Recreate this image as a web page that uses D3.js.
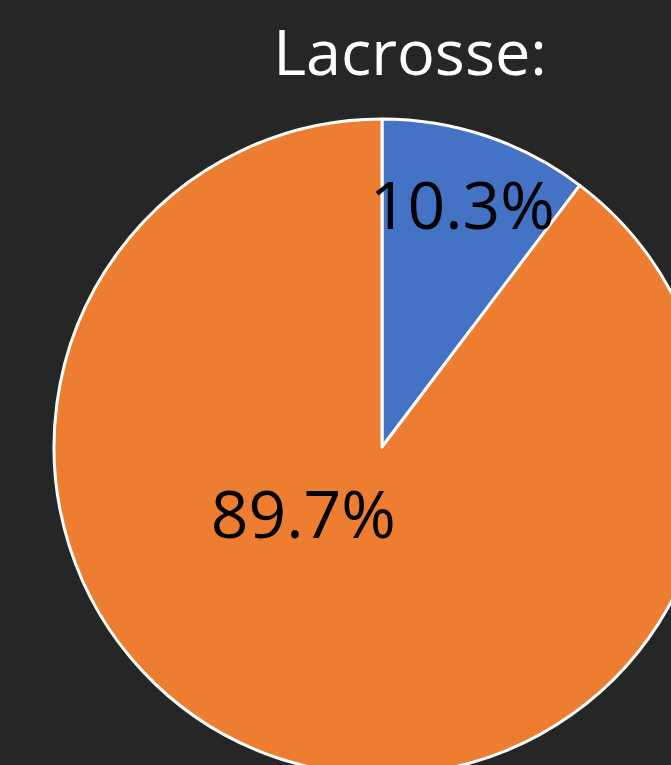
<!DOCTYPE html>
<html><head><meta charset="utf-8">
<script src="https://cdn.jsdelivr.net/npm/d3@7"></script>
<style>
html,body{margin:0;padding:0;background:#262626;overflow:hidden;}
svg{display:block;}
text{font-family:"Open Sans","Noto Sans",sans-serif;}
</style></head>
<body>
<script>
const title = "Lacrosse:";
const categories = ["Yes", "No"];
const values = [10.3, 89.7];
const colors = ["#4472C4", "#ED7D31"];
const labelTexts = ["10.3%", "89.7%"];

const W = 671, H = 765;
const cx = 382, cy = 447, R = 328;

const svg = d3.select("body").append("svg").attr("width", W).attr("height", H);
svg.append("rect").attr("width", W).attr("height", H).attr("fill", "#262626");

svg.append("text").attr("x", 410).attr("y", 75)
  .attr("text-anchor", "middle").attr("fill", "#FFFFFF")
  .attr("font-size", 63).text(title);

const pie = d3.pie().sort(null).value(d => d);
const arcs = pie(values);
const arc = d3.arc().innerRadius(0).outerRadius(R);

const g = svg.append("g").attr("transform", `translate(${cx},${cy})`);
g.selectAll("path").data(arcs).enter().append("path")
  .attr("d", arc).attr("fill", (d, i) => colors[i])
  .attr("stroke", "#FFFFFF").attr("stroke-width", 3).attr("stroke-linejoin", "round");

// label placement: radius fraction and angular shift (Excel best-fit)
const labelR = [0.77, 0.32];
const labelShift = [0, 30 * Math.PI / 180];
g.selectAll("text.lbl").data(arcs).enter().append("text").attr("class", "lbl")
  .attr("x", (d, i) => { const a = (d.startAngle + d.endAngle) / 2 + labelShift[i]; return Math.sin(a) * R * labelR[i]; })
  .attr("y", (d, i) => { const a = (d.startAngle + d.endAngle) / 2 + labelShift[i]; return -Math.cos(a) * R * labelR[i]; })
  .attr("dy", "0.33em").attr("text-anchor", "middle").attr("fill", "#000000")
  .attr("font-size", 66).text((d, i) => labelTexts[i]);
</script>
</body></html>
